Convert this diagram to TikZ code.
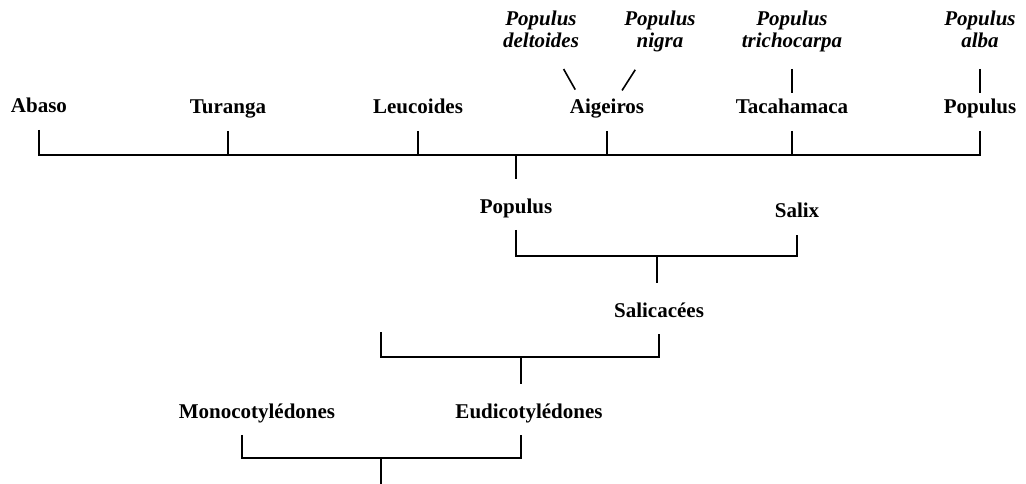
\documentclass[tikz,border=0pt]{standalone}
\usepackage{fontspec}
\setmainfont{Liberation Serif}
\usepackage{tikz}
\usetikzlibrary{positioning}

\begin{document}
\begin{tikzpicture}[x=1pt, y=-1pt, line width=1.6pt,
    taxon/.style={font=\fontsize{21}{24}\selectfont\bfseries, inner xsep=0pt,
        inner ysep=11pt, text height=22pt, text depth=5pt, anchor=base},
    species/.style={font=\fontsize{21}{22}\selectfont\bfseries\itshape,
        inner sep=0pt, align=center}]

\useasboundingbox (0,0) rectangle (1026,484);

% Species
\node[species] (deltoides) at (541,29) {Populus\\deltoides};
\node[species] (nigra) at (660,31) {Populus\\nigra};
\node[species] (trichocarpa) at (792,31) {Populus\\trichocarpa};
\node[species] (alba) at (980,29) {Populus\\alba};

% Sections
\node[taxon] (abaso) at (39,113) {Abaso};
\node[taxon] (turanga) at (228,114) {Turanga};
\node[taxon] (leucoides) at (418,114) {Leucoides};
\node[taxon] (aigeiros) at (607,114) {Aigeiros};
\node[taxon] (tacahamaca) at (792,114) {Tacahamaca};
\node[taxon] (populussec) at (980,114) {Populus};

% Genera, family, classes
\node[taxon] (populus) at (516,213) {Populus};
\node[taxon] (salix) at (797,218) {Salix};
\node[taxon] (salicacees) at (659,317) {Salicacées};
\node[taxon] (monocots) at (257,418) {Monocotylédones};
\node[taxon] (eudicots) at (529,418) {Eudicotylédones};

% Bracket joints
\coordinate (bar1) at (516,155);
\coordinate (bar2) at (657,256);
\coordinate (stem) at (381,332);
\coordinate (bar3) at (521,357);
\coordinate (bar4) at (381,458);
\coordinate (root) at (381,484);

% Species to sections
\draw[shorten <=46pt, shorten >=28pt] (deltoides.center) -- ([xshift=-18pt]aigeiros.base);
\draw[shorten <=46pt, shorten >=28pt] (nigra.center) -- (aigeiros.base);
\draw[shorten <=38pt, shorten >=21pt] (trichocarpa.center) -- (tacahamaca.base);
\draw[shorten <=40pt, shorten >=21pt] (alba.center) -- (populussec.base);

% Sections of Populus
\draw (abaso.south) |- (bar1) -| (populussec.south);
\foreach \n in {turanga, leucoides, aigeiros, tacahamaca}
    \draw (\n.south) -- (\n.south |- bar1);
\draw (bar1) -- (populus.north);

% Salicacees
\draw (populus.south) |- (bar2) -| (salix.south);
\draw (bar2) -- (bar2 |- salicacees.north);

% Eudicots
\draw (stem) |- (bar3) -| (salicacees.south);
\draw (bar3) -- (bar3 |- eudicots.north);

% Root
\draw ([xshift=-15pt]monocots.south) |- (bar4) -| ([xshift=-8pt]eudicots.south);
\draw (bar4) -- (root);

\end{tikzpicture}
\end{document}
